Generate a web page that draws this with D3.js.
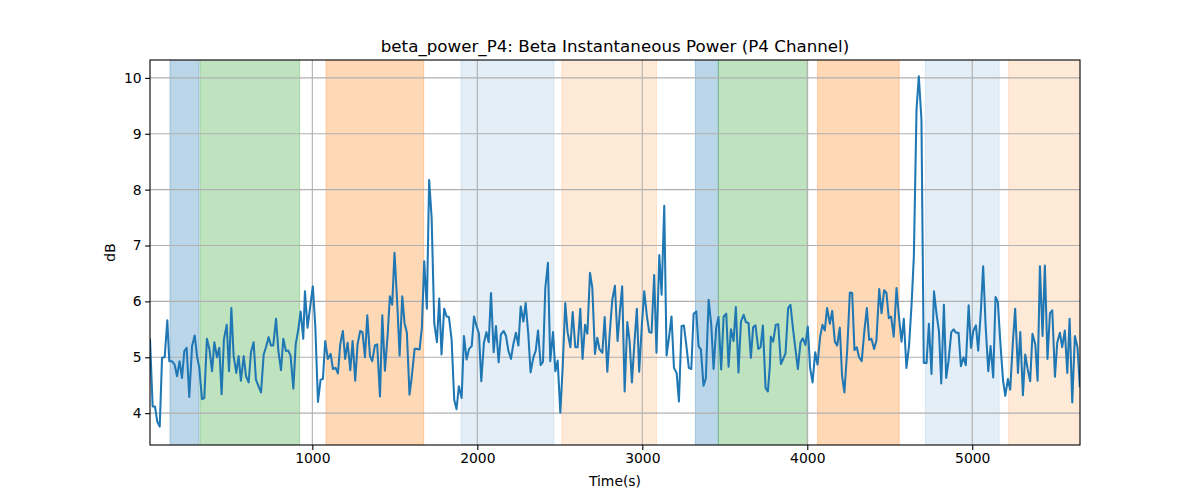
<!DOCTYPE html>
<html><head><meta charset="utf-8">
<script src="https://cdn.jsdelivr.net/npm/d3@7"></script>
<style>
body{margin:0;background:#fff;}
text{font-family:"DejaVu Sans",sans-serif;fill:#000;}
</style></head>
<body><svg id="c" width="1200" height="500"></svg>
<script>
const times = [16,32,46,60,75,89,105,121,133,149,165,180,195,210,224,238,254,271,287,301,315,331,345,361,376,392,406,422,436,450,464,481,495,509,523,539,553,567,584,598,614,628,644,658,674,689,705,719,735,749,763,780,794,810,824,840,854,868,885,899,915,929,945,955,
971,987,1003,1018,1034,1050,1064,1078,1094,1111,1125,1141,1155,1169,1185,1199,1214,1230,1244,1260,1274,1290,1304,1319,1333,1349,1363,1379,1393,1410,1424,1440,1456,1470,1484,1498,1515,1529,1545,1559,1573,1589,1603,1620,1634,1650,1664,1678,1694,1708,1723,1739,1755,1769,1783,1799,1814,1828,1844,1860,1874,1888,
1905,1919,1935,1950,1966,1980,1994,2010,2024,2040,2055,2069,2083,2099,2113,2129,2143,2160,2174,2188,2204,2218,2234,2249,2263,2279,2293,2309,2323,2339,2354,2368,2384,2398,2412,2428,2442,2459,2473,2487,2503,2517,2533,2547,2564,2578,2594,2608,2624,2638,2653,2667,2683,2697,2713,2727,2741,2758,2772,2788,2802,2818,2834,
2850,2864,2878,2893,2909,2923,2937,2953,2967,2981,2998,3012,3028,3042,3056,3072,3086,3103,3117,3133,3147,3163,3177,3192,3208,3222,3238,3252,3266,3282,3297,3311,3327,3341,3355,3371,3385,3402,3418,3432,3448,3462,3478,3493,3509,3523,3537,3553,3567,3583,3598,3614,3628,3644,3658,3672,3686,3703,3717,3731,3747,3761,3773,
3779,3793,3809,3824,3840,3854,3868,3884,3898,3914,3929,3943,3959,3973,3989,4003,4017,4032,4048,4062,4078,4092,4106,4120,4137,4151,4167,4181,4197,4211,4225,4242,4258,4272,4286,4300,4314,4330,4345,4361,4375,4389,4405,4419,4436,4450,4466,4480,4494,4508,4524,4541,4555,4571,4585,4601,4617,4632,4646,4662,4676,4692,4706,
4723,4737,4753,4768,4784,4798,4812,4828,4842,4856,4873,4887,4901,4917,4931,4947,4961,4978,4992,5006,5022,5036,5052,5066,5081,5097,5111,5127,5141,5155,5170,5186,5200,5216,5230,5246,5260,5277,5291,5307,5321,5335,5351,5365,5382,5396,5410,5426,5440,5456,5471,5485,5501,5515,5531,5545,5561,5576,5590,5606,5622,5638,5652];
const power = [5.32,4.12,4.12,3.85,3.76,4.99,5.0,5.66,4.93,4.93,4.87,4.66,4.93,4.63,5.11,5.17,4.29,5.20,5.39,5.02,4.81,4.25,4.27,5.33,5.15,4.75,5.27,5.0,5.17,4.34,5.32,5.58,4.75,5.88,5.02,4.72,5.02,4.58,5.02,4.66,4.55,5.09,5.27,4.60,4.48,4.37,5.05,5.18,5.36,5.21,5.21,5.69,5.12,4.77,5.33,5.11,5.12,5.03,4.44,5.23,5.50,5.82,5.33,6.18,
5.53,5.91,6.27,5.55,4.20,4.60,4.61,5.29,4.97,5.06,4.79,4.81,4.71,5.23,5.47,4.97,5.26,4.77,5.29,4.58,5.23,5.47,5.45,5.0,5.75,5.03,4.93,5.21,5.23,4.30,5.75,4.76,5.38,6.09,5.94,6.87,5.94,5.03,6.09,5.61,5.44,4.33,4.66,5.15,5.15,5.14,5.53,6.72,5.87,8.17,7.50,5.61,5.27,6.05,5.05,5.87,5.73,5.72,5.32,4.24,4.07,4.48,
4.27,5.38,4.96,5.15,5.20,5.73,5.57,5.42,4.57,5.26,5.45,5.27,6.15,5.09,5.56,4.91,5.41,5.47,5.38,5.12,4.97,5.23,5.44,5.21,5.91,5.64,5.97,5.41,4.73,4.99,5.12,5.48,4.86,4.92,6.24,6.69,4.93,5.45,4.75,4.94,4.01,4.80,5.97,5.45,5.18,5.81,5.18,5.18,5.87,4.97,5.58,5.42,6.51,6.24,5.06,5.35,5.14,5.08,5.72,4.74,5.41,6.03,6.28,
5.29,5.82,6.27,4.39,5.63,5.29,4.55,5.29,5.87,4.74,5.61,6.18,5.73,5.45,5.44,6.47,5.08,6.83,6.12,7.71,5.03,5.38,5.73,4.81,4.72,4.21,5.56,5.57,5.24,4.81,4.79,5.78,5.82,5.20,5.14,4.49,4.62,6.03,5.58,4.79,5.53,5.72,4.78,5.73,5.78,4.83,5.50,5.29,5.90,4.73,5.64,5.76,5.63,5.61,4.99,5.54,5.57,5.15,5.18,5.57,4.45,4.39,4.84,
5.37,5.28,5.58,5.59,4.88,4.97,5.07,5.88,5.94,5.50,5.13,4.79,5.27,5.34,5.22,5.55,4.81,4.55,5.09,4.87,5.37,5.58,5.48,5.88,5.60,5.83,5.28,5.21,5.53,4.66,4.37,5.13,6.16,6.15,5.13,5.18,5.0,4.93,5.44,5.88,5.31,5.33,5.15,5.30,6.22,5.79,6.20,6.15,5.70,5.73,5.37,6.24,5.74,5.28,5.69,4.81,5.21,5.94,6.81,9.43,10.03,9.25,4.90,
4.90,5.60,4.70,6.18,5.76,5.47,4.53,5.94,4.63,4.93,5.45,5.50,5.44,5.44,4.84,5.00,4.86,5.93,5.17,5.47,5.57,5.12,5.82,6.63,5.56,4.75,5.20,4.64,6.08,5.99,5.27,4.60,4.31,4.61,4.42,5.26,5.87,4.72,5.45,4.32,5.05,4.80,4.57,5.42,5.23,4.58,6.63,5.38,6.64,4.97,5.79,5.84,4.65,5.26,5.44,5.18,5.48,4.72,5.69,4.19,5.38,5.17,4.48];

const spanStart = [137, 319, 1083, 1901, 2512, 3322, 3461, 4062, 4716, 5220];
const spanEnd   = [313, 923, 1675, 2464, 3086, 3461, 4003, 4557, 5163, 5700];
const spanColor = ["#1f77b4","#2ca02c","#ff7f0e","#1f77b4","#ff7f0e","#1f77b4","#2ca02c","#ff7f0e","#1f77b4","#ff7f0e"];
const spanAlpha = [0.3,0.3,0.3,0.12,0.16,0.3,0.3,0.3,0.12,0.16];

const xTicks = [1000,2000,3000,4000,5000];
const yTicks = [4,5,6,7,8,9,10];
const xDomain = [16, 5653];
const yDomain = [3.43, 10.32];

const L=150,R=1080,T=60,B=445;
const svg=d3.select("#c");
const x=d3.scaleLinear().domain(xDomain).range([L,R]);
const y=d3.scaleLinear().domain(yDomain).range([B,T]);

svg.append("defs").append("clipPath").attr("id","clip").append("rect")
  .attr("x",L).attr("y",T).attr("width",R-L).attr("height",B-T);

const g=svg.append("g").attr("clip-path","url(#clip)");
spanStart.forEach((s,i)=>{
  g.append("rect").attr("x",x(s)).attr("y",T-5).attr("width",x(spanEnd[i])-x(s)).attr("height",B-T+10)
   .attr("fill",spanColor[i]).attr("fill-opacity",spanAlpha[i])
   .attr("stroke",spanColor[i]).attr("stroke-opacity",spanAlpha[i]).attr("stroke-width",1);
});

// grid
xTicks.forEach(t=>g.append("line").attr("x1",x(t)).attr("x2",x(t)).attr("y1",T).attr("y2",B)
  .attr("stroke","#b0b0b0").attr("stroke-width",1.1));
yTicks.forEach(t=>g.append("line").attr("x1",L).attr("x2",R).attr("y1",y(t)).attr("y2",y(t))
  .attr("stroke","#b0b0b0").attr("stroke-width",1.1));

const pts=times.map((t,i)=>[t,power[i]]);
g.append("path").datum(pts).attr("fill","none").attr("stroke","#1f77b4").attr("stroke-width",2.05)
  .attr("stroke-linejoin","round").attr("stroke-linecap","square")
  .attr("d",d3.line().x(d=>x(d[0])).y(d=>y(d[1])));

// axes
const xa=svg.append("g").attr("transform",`translate(0,${B})`)
  .call(d3.axisBottom(x).tickValues(xTicks).tickFormat(d3.format("d")).tickSize(4.9).tickPadding(3.5));
const ya=svg.append("g").attr("transform",`translate(${L},0)`)
  .call(d3.axisLeft(y).tickValues(yTicks).tickFormat(d3.format("d")).tickSize(4.9).tickPadding(3.5));
[xa,ya].forEach(a=>{a.select(".domain").remove();a.selectAll("text").style("font-size","13.9px").style("font-family","DejaVu Sans");a.selectAll("line").attr("stroke","#000").attr("stroke-width",1.1);});

svg.append("rect").attr("x",L).attr("y",T).attr("width",R-L).attr("height",B-T)
  .attr("fill","none").attr("stroke","#000").attr("stroke-width",1.1);

svg.append("text").attr("x",(L+R)/2).attr("y",52).attr("text-anchor","middle").style("font-size","16.7px")
  .text("beta_power_P4: Beta Instantaneous Power (P4 Channel)");
svg.append("text").attr("x",(L+R)/2).attr("y",486).attr("text-anchor","middle").style("font-size","13.9px").text("Time(s)");
svg.append("text").attr("transform",`translate(115,${(T+B)/2}) rotate(-90)`).attr("text-anchor","middle").style("font-size","13.9px").text("dB");
</script></body></html>
